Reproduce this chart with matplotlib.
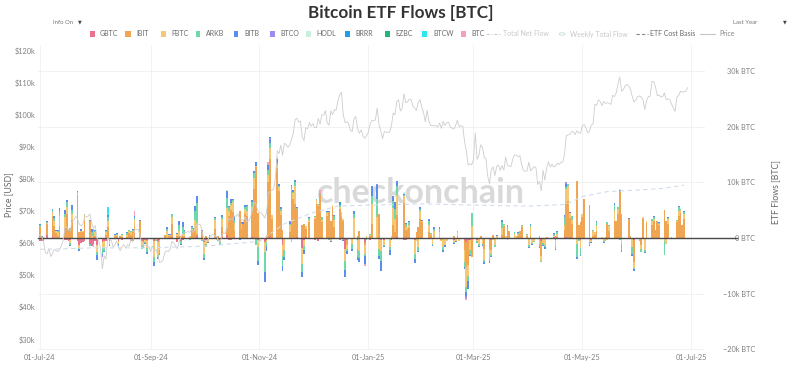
import matplotlib
matplotlib.use("Agg")
import matplotlib.pyplot as plt
import matplotlib.dates as mdates
import numpy as np
import pandas as pd
from matplotlib.patches import Rectangle, Circle
from matplotlib.lines import Line2D

# ---------------- data (flows in thousand BTC per trading day) ----------------
holidays = ["2024-07-04", "2024-09-02", "2024-11-28", "2024-12-25", "2025-01-01",
            "2025-01-09", "2025-01-20", "2025-02-17", "2025-04-18", "2025-05-26", "2025-06-19"]

gbtc = [-0.5,-0.6,-0.5,0.5,0.4,0,0,-0.1,0,-0.3,-0.3,-0.5,-0.3,0,-0.6,-1.2,-0.9,-0.8,-0.6,-1.1,-1.4,-1.1,
        -0.6,-1.2,-0.8,-0.6,-0.5,-0.2,-0.6,0,-0.1,-0.6,-0.2,-0.3,0,0,-0.6,-0.5,0,0,-0.5,-0.8,-0.4,-0.4,
        -0.6,0,-0.5,-0.4,0,0,0,0,0.1,-0.7,0,-0.6,-0.3,0,-0.1,0,-0.1,0,0.4,-0.1,
        -0.7,-0.3,0,-0.1,0,-0.2,0,-0.3,0.1,0.6,-0.3,-0.3,0,0.2,0,0,0,0,0,0.2,0,0,-0.4,
        -0.2,-0.8,-0.3,0,0.4,0,0,-0.2,0,-1.2,-0.1,0,0,0,-0.1,0.1,-1.8,-0.3,0.1,0,
        -0.3,0,-0.5,0,0,0,0,0,0,0,-0.3,0,0,-1.9,-0.4,0,0,-0.3,-0.1,-0.8,-0.2,
        -0.3,0,0,-0.2,-0.4,-0.4,-0.2,0,0,-0.2,0.2,-0.3,-0.3,0,0,-0.4,0,-0.2,0,-0.1,
        0,0,-0.2,-0.2,-0.2,0,0,0,-0.2,-0.2,-0.3,-0.2,-0.2,-0.1,-0.4,-0.7,-0.3,-0.3,0,
        -0.3,-0.2,0,0,-0.2,-0.1,-0.3,0,-0.2,0,0,0,0,0,0,0,0,0,0,0,-0.1,
        -0.2,0,0,0,-0.1,-0.5,0,-0.2,0,0,0.2,-0.3,0.2,0.2,0.1,0,0.1,0,-0.2,-0.1,-0.4,
        0,0,0,-0.3,0,0,0,0,-0.2,0,0,0,0,0,0,-0.1,0,0,0,-0.2,-0.3,
        0,0,0,-0.1,0,0,0,0,0,0,0,0,0,0,0,0,0,0,0]
ibit = [1.9,0,0.1,2.0,3.4,2.1,0.9,0.4,2.1,1.8,4.4,1.2,1.8,3.2,7.8,1.1,1.0,1.0,3.1,3.1,0,0.3,
        0.4,0,0,0,0.5,2.0,0,0.4,0.4,0,0.3,0.2,0.1,0.9,0.5,1.1,2.2,3.0,0,0,0,-0.2,
        0,0,-0.2,0,0.5,0,0.4,0.3,2.5,0.3,0.3,0.3,0.3,0.4,0,1.5,1.4,1.3,0.4,1.2,
        0,0.3,0,0,1.6,0,0.3,0,1.8,1.2,4.0,5.0,4.7,1.0,4.8,1.7,2.6,4.4,4.0,4.7,8.9,12.7,4.5,
        0,0,0.6,10.1,13.8,3.5,12.5,8.4,4.2,1.4,0,1.0,9.4,7.1,6.1,5.2,2.4,2.5,1.6,2.9,
        3.5,6.2,5.7,7.8,2.8,3.9,4.7,3.0,5.5,2.0,5.2,3.8,3.0,0,-0.8,0,0,0.4,1.2,-0.4,0,
        0.4,2.6,0,4.3,0,0,0,0,2.4,1.1,4.0,6.3,1.5,1.5,1.8,0,1.1,2.0,3.4,2.8,
        0,1.0,0.6,0,0,0,-0.3,-0.2,0,0,0.4,0,0.4,0,-1.7,-4.5,-4.6,0,-3.4,
        0,0,0.3,0,-1.7,-1.8,-1.8,0.5,0,0,0.5,2.2,0,2.2,1.2,0,0,0.3,1.2,2.0,0.3,
        0,0.4,0,0,0.4,-2.8,0,0,0.2,0,0,0.4,0,1.2,6.1,6.7,3.5,2.6,10.2,2.3,2.8,
        3.7,7.0,5.9,0,0.4,0.5,1.3,0,0,0.2,2.5,1.3,3.1,3.0,4.4,8.4,4.4,3.5,0.3,0,-4.1,
        0,-1.2,3.5,0,2.7,2.3,3.0,1.2,3.0,2.3,5.0,3.0,2.6,0.2,2.8,4.0,4.5,2.3,3.5]
fbtc = [0.1,0.2,0,0.2,0.9,1.0,0.3,0.6,1.9,1.9,1.2,0.1,-0.6,1.1,0.3,-0.6,0.3,0.2,1.0,0,0.4,-0.3,
        0.6,-1.4,-0.9,-1.2,0.6,1.0,-0.5,0.1,0.2,-0.5,0,0.3,0.5,0.4,0.6,0.2,1.0,0,-0.8,-0.5,-0.3,-1.2,
        -2.8,-0.3,-2.4,-1.7,0,1.2,0.2,0.3,1.1,0.5,0.9,0,0.5,0.3,0.4,0.2,0,1.9,1.9,-0.3,
        -2.1,-0.8,-0.7,0.3,1.6,-0.1,-0.3,-0.5,1.6,3.6,0.9,0.9,1.7,1.5,-0.1,0.8,0,0.9,0.8,0.6,1.9,0.2,-1.2,
        -0.6,-1.8,-0.4,1.3,2.0,0.6,0.6,0.8,0.7,-2.0,-2.1,1.4,-0.6,1.0,3.2,-0.2,-2.8,-1.1,0.4,0.4,
        0.3,0.7,0.2,-0.1,0.4,0.6,-0.1,-0.5,0.4,1.2,0.4,0.8,0.4,-2.2,-0.8,-1.1,3.6,-1.6,-2.2,-1.6,0.3,
        0.2,3.6,3.8,-1.7,-2.0,-0.8,-1.4,0.4,3.0,2.3,3.5,1.2,0.5,0.4,0.5,-2.4,-0.5,-1.4,1.5,0.2,
        -0.2,1.3,0.2,-0.8,1.3,1.0,-0.3,-1.4,-1.0,-0.3,-0.4,-0.3,0.6,-0.4,-2.3,-3.7,-1.9,-1.8,2.2,
        -0.3,-0.8,0.1,-1.0,-2.0,-1.8,-0.8,-0.3,-1.0,0.3,1.3,0.2,0.3,-0.4,-0.2,0.8,0.4,0.5,-0.1,0.2,0.3,
        -1.0,1.5,-0.9,-0.6,-1.0,-0.9,-0.9,-1.0,0,0,0.2,-1.1,0.5,1.0,2.7,2.7,0.9,0.7,-0.9,-0.1,-1.4,
        0.6,0,-0.7,-0.4,0.8,0.6,0.9,0.1,-0.4,-0.3,-0.3,0.8,1.8,0,0.8,0,-1.1,0,-0.1,-1.5,-1.0,
        -0.3,-0.8,0.2,-2.0,0.3,0.7,0.5,0.1,-0.1,0.3,-0.5,-1.0,0.8,-0.1,0.3,0.8,0.5,-0.2,0.8]
arkb = [0.3,0,-0.1,0.2,0.4,0.5,0.1,0.3,0.8,0.6,0.8,0.1,-0.3,0.8,0.2,-0.2,0,0,0.2,-0.3,0.7,-0.2,
        0.3,-0.5,-1.2,-0.5,0.2,0.8,-0.2,0.1,0.2,0,0,0.3,0.3,0.2,0.1,0.1,0.4,0.1,-0.6,-0.3,-0.2,-0.8,
        -1.0,-0.2,-0.4,-0.7,0,0.5,0,0,0.6,0,1.2,-0.5,1.1,0.5,-0.3,0.2,0.2,1.7,3.6,-0.1,
        -0.8,-0.5,-0.1,0.1,0.4,-0.1,-0.3,-0.4,0.2,1.8,0.7,0.4,0.5,0.6,0,0.2,0,0.3,0.9,0.9,0.9,-1.3,-2.6,
        0,-3.5,-0.8,0.8,0.8,0,0.4,0.2,0.4,-1.9,-1.2,0.2,-0.1,0.2,0.8,0.1,-1.5,-0.8,0,0.3,
        0.1,0.1,0.2,0.2,0.5,0.2,-0.3,0,0.1,0.8,0.4,0.1,-0.4,-1.6,-0.3,-0.8,0.7,-1.5,-1.3,-0.4,-0.1,
        0.2,1.4,3.2,-1.3,-1.7,-0.3,-0.6,-0.2,1.3,1.9,1.7,0.2,0.5,0,0.5,-1.0,0,-0.8,0.4,0.1,
        0,0.7,0.1,-0.2,0.4,0.6,0,-0.5,0,0,-0.2,-0.1,0.2,0,-0.8,-0.9,-1.0,-0.9,2.3,
        -0.3,-0.4,-0.1,-0.3,-0.5,-0.5,-0.4,0,-0.4,0.1,1.1,0.2,-0.2,0,0,0.2,-0.1,0.1,-0.1,0.1,0.2,
        -0.4,0.4,-0.2,-0.1,-0.5,-0.1,-0.4,-0.5,0,0,0.3,-0.5,0.4,1.4,0.3,0.3,0,0.6,-2.4,-0.3,-1.2,
        0.1,0,-0.6,-0.1,0.2,0,0.6,-0.2,-0.2,-0.2,0.3,0.2,1.0,0.1,0.3,-0.2,-1.2,0,0,-1.2,-0.2,
        -0.2,-0.5,-0.1,-0.4,0.1,0.4,0.3,0.1,0,0.1,-2.5,0,0.2,0,0.1,0.8,0.2,0,0.4]
bitb = [0.3,0.1,0.1,0.2,0.2,0.4,0.1,0.1,0.6,0.7,0.4,0,-0.2,0.9,0.1,-0.3,0.3,0.1,0.1,0.2,0.6,0.1,
        0.2,-0.8,-0.2,-0.3,0.1,0.4,-0.2,0.1,0.1,-0.3,0,0,0.1,0,0,0.2,0.3,0.1,-0.1,-0.2,-0.2,-0.3,
        -0.6,-0.1,-0.3,-0.3,0,0.3,0.1,0.1,0.1,0.1,0.7,-0.1,0.9,0.3,0,0.2,0.2,0.8,1.2,0.2,
        -0.3,-0.1,-0.1,0.1,0.2,0.1,0,-0.1,0.4,1.2,0.2,0.8,0.1,0.7,-0.3,0.2,0.2,0.3,0.3,0.4,0.3,0.8,-0.7,
        0,-1.9,-0.8,0.9,0.7,0.1,0.7,0.3,0.3,-0.9,-0.6,0.4,0.2,0.3,0.3,0.1,-0.9,-0.6,0,0.2,
        0.1,0,0.1,0,0.1,0.2,0.2,-0.3,0,0.2,0.3,0,-0.2,-1.3,-0.5,-0.5,0.5,-0.5,-0.7,-1.4,0.1,
        0,1.7,2.6,-0.6,-1.9,-0.1,-0.8,-0.1,0.9,1.2,0.9,0.2,0.2,-0.1,0.2,-0.7,-0.1,-0.1,0.3,0.1,
        0,0.4,0,-0.2,0.3,0.3,0,-0.5,-0.4,0,-0.1,-0.1,0,-0.1,-0.4,-0.7,-1.2,-0.3,0,
        0,-0.2,0,-0.2,-0.3,-0.3,-0.2,0,0,0.1,0.3,-0.1,0,0.1,0,0,0,0.1,0,0,0,
        -0.2,0.3,-0.1,-0.1,-0.2,0,-0.2,-0.2,0,0,0.2,-0.3,0.2,0.4,0.6,0.1,0.2,0.1,-0.3,0,-0.3,
        0,0,-0.1,-0.1,0.1,0,0.3,0,-0.1,0,0,0.1,0.4,0,0.1,0.3,-0.2,0.1,0,-0.4,-0.3,
        0,-0.1,0.1,-0.2,0,0.1,0.1,0.1,0.1,0.1,0.1,0.1,0.1,0,0.1,0.2,0.1,0,0.1]
# smaller funds: only days with a visible flow
btco = {"2024-08-05": -0.3, "2024-11-07": 0.3, "2025-01-06": 0.2, "2025-02-25": -0.3, "2025-04-22": 0.2}
hodl = {"2024-10-14": 0.3, "2024-11-11": 0.3, "2025-01-21": 0.3, "2025-05-22": 0.2}
brrr = {"2024-11-07": 0.2}
ezbc = {"2024-12-16": 0.2, "2025-02-26": -0.2}
btcw = {"2024-08-08": 1.3}
btc_mini = {"2024-07-31": 1.2, "2024-08-23": 1.0, "2024-11-06": 0.6, "2024-12-05": 0.6,
            "2024-12-30": -0.5, "2025-02-25": -0.3}

fund_names = ["GBTC", "IBIT", "FBTC", "ARKB", "BITB", "BTCO", "HODL", "BRRR", "EZBC", "BTCW", "BTC"]
fund_colors = ["#e8738f", "#f0a552", "#f6c873", "#6fd8aa", "#5b8def", "#9d8cf0",
               "#c9eedb", "#1e9fe6", "#20b87a", "#2ee6ee", "#f2a0bd"]

# daily BTC price (USD k), one list per month, 2024-07-01 .. 2025-06-29
p_jul = [62.7,62.0,60.2,57.0,56.6,58.2,55.8,56.7,58.0,57.7,57.3,57.9,59.2,60.8,64.7,65.1,64.1,63.9,66.7,67.2,68.2,67.6,65.9,65.4,65.8,67.9,68.2,68.3,69.0,66.2,64.6]
p_aug = [65.4,61.5,60.7,58.1,52.0,56.0,55.0,61.7,60.9,60.9,58.7,59.4,60.6,58.7,57.6,58.9,59.5,58.4,59.5,59.0,61.2,60.4,64.1,64.2,64.2,62.9,59.5,59.0,59.4,59.1,58.9]
p_sep = [57.3,59.1,57.5,58.0,56.2,53.9,54.1,54.8,57.0,57.6,57.3,58.1,60.5,60.0,59.1,58.2,60.3,61.8,62.9,63.2,63.3,63.6,63.3,64.3,63.1,65.2,65.8,65.9,65.6,63.3]
p_oct = [60.8,60.6,60.8,62.1,62.1,62.8,62.2,62.1,60.6,60.3,62.4,63.2,62.9,66.1,67.6,67.4,67.4,68.4,68.4,69.0,67.4,67.4,66.7,68.2,66.6,67.0,68.0,69.9,72.7,72.3,70.2]
p_nov = [69.5,69.4,68.7,67.8,69.4,75.6,75.9,76.5,76.7,80.5,88.7,87.9,90.5,87.3,91.1,90.6,89.8,90.5,92.3,94.3,98.4,98.9,97.7,98.0,93.0,91.9,95.9,95.6,97.5,96.4]
p_dec = [97.2,95.9,96.0,98.8,97.0,99.9,99.9,101.2,97.4,96.7,101.2,100.0,101.5,101.4,104.3,106.1,107.0,100.0,97.5,97.8,97.2,95.1,94.7,98.7,99.4,95.8,94.2,95.2,93.4,92.6,93.4]
p_jan = [94.4,96.9,98.1,98.2,98.3,102.1,96.9,95.0,92.5,94.7,94.5,94.5,94.5,96.5,100.5,99.9,104.1,104.6,101.1,102.0,106.5,103.7,104.0,104.8,104.7,102.6,102.1,101.3,103.7,104.7,102.4]
p_feb = [100.7,97.7,101.4,97.9,96.6,96.6,96.5,96.5,96.1,97.4,95.7,97.9,96.6,97.5,97.6,96.1,95.8,95.5,96.6,98.3,96.1,96.6,96.3,91.5,88.7,84.3,84.7,84.4]
p_mar = [86.0,94.3,86.1,87.2,90.6,89.9,86.7,86.2,80.7,78.5,82.9,83.7,81.0,83.9,84.3,82.6,84.1,82.7,86.8,84.2,84.0,83.8,86.1,87.5,87.4,86.9,87.2,84.4,82.6,82.3,82.5]
p_apr = [85.2,82.5,83.1,83.8,83.5,78.2,79.2,76.3,82.6,79.6,83.4,85.3,83.7,84.5,83.7,84.0,84.9,84.5,85.1,85.2,87.5,93.4,93.7,93.9,94.7,94.6,93.8,95.0,94.3,94.2]
p_may = [96.5,96.9,95.9,94.3,94.7,96.8,97.0,103.2,102.9,104.6,104.1,102.8,104.1,103.5,103.7,103.5,103.2,106.0,105.6,106.8,109.6,111.7,107.3,107.8,109.0,109.4,108.9,107.8,105.6,103.9,104.6]
p_jun = [105.6,105.8,105.4,104.7,101.6,104.4,105.6,105.7,110.3,110.3,108.7,105.9,106.1,105.5,105.6,106.8,104.6,104.9,104.7,103.3,102.1,101.0,105.5,106.0,107.3,107.0,107.1,107.3,108.4]

# ETF cost basis (USD k)
cb_dates = ["2024-07-01", "2024-08-01", "2024-09-01", "2024-10-01", "2024-11-01", "2024-11-15",
            "2024-12-01", "2024-12-15", "2025-01-01", "2025-02-01", "2025-03-01", "2025-04-01",
            "2025-04-22", "2025-05-01", "2025-05-15", "2025-06-01", "2025-06-15", "2025-06-27"]
cb_vals = [58.0, 58.5, 58.5, 59.0, 60.5, 66.0, 69.5, 71.5, 71.8, 72.2, 71.8, 71.5,
           72.0, 74.5, 76.0, 76.5, 77.0, 78.0]

price_ticks = [30, 40, 50, 60, 70, 80, 90, 100, 110, 120]
flow_ticks = [-20, -10, 0, 10, 20, 30]
month_ticks = ["2024-07-01", "2024-09-01", "2024-11-01", "2025-01-01", "2025-03-01", "2025-05-01", "2025-07-01"]

# ---------------- figure ----------------
FONT = "Lato"
plt.rcParams["font.family"] = [FONT, "DejaVu Sans"]
W, H = 800, 366
fig = plt.figure(figsize=(W / 100, H / 100), dpi=100)

def fx(x):
    return x / W

def fy(y):
    return 1 - y / H

L, R, T, B = 38, 705, 45, 350
ax = fig.add_axes([fx(L), fy(B), (R - L) / W, (B - T) / H])
axp = ax.twinx()

days = pd.bdate_range("2024-07-01", "2025-06-27")
days = days[~days.isin(pd.to_datetime(holidays))]
xd = mdates.date2num(days.to_pydatetime())
idx = {d.strftime("%Y-%m-%d"): i for i, d in enumerate(days)}

def sparse(d):
    arr = np.zeros(len(days))
    for k, v in d.items():
        arr[idx[k]] = v
    return arr

series = [np.array(gbtc), np.array(ibit), np.array(fbtc), np.array(arkb), np.array(bitb),
          sparse(btco), sparse(hodl), sparse(brrr), sparse(ezbc), sparse(btcw), sparse(btc_mini)]

pos_base = np.zeros(len(days))
neg_base = np.zeros(len(days))
for vals, col in zip(series, fund_colors):
    v = vals * 1000.0
    bottom = np.where(v >= 0, pos_base, neg_base)
    ax.bar(xd, v, bottom=bottom, width=1.0, color=col, linewidth=0, zorder=3)
    pos_base = pos_base + np.where(v > 0, v, 0)
    neg_base = neg_base + np.where(v < 0, v, 0)

# watermark
ax.text((421 - L) / (R - L), (B - 193) / (B - T), "checkonchain", transform=ax.transAxes,
        ha="center", va="center", fontsize=24.5, fontweight="bold", color="#d9d9d9", zorder=1)

# zero line
ax.axhline(0, xmin=0, xmax=(737 - L) / (R - L), color="#4a4a4a", lw=1.0, zorder=6, clip_on=False)

# price + cost basis on left axis
prices = p_jul + p_aug + p_sep + p_oct + p_nov + p_dec + p_jan + p_feb + p_mar + p_apr + p_may + p_jun
pdays = pd.date_range("2024-07-01", periods=len(prices), freq="D")
axp.plot(mdates.date2num(pdays.to_pydatetime()), np.array(prices) * 1000, color="#cdcdcd", lw=0.6, zorder=4)
cbd = mdates.date2num(pd.to_datetime(cb_dates).to_pydatetime())
axp.plot(cbd, np.array(cb_vals) * 1000, color="#d2dde8", lw=0.8, dashes=(4, 3), zorder=4)

# limits
x0 = mdates.date2num(pd.Timestamp("2024-07-01")) - 1.1
x1 = mdates.date2num(pd.Timestamp("2024-07-01")) + (R - 40) / 1.784
ax.set_xlim(x0, x1)
ax.set_ylim(-(B - 238) / 55.6 * 10000, (238 - T) / 55.6 * 10000)
axp.set_ylim(60000 - (B - 243) / 32.1 * 10000, 60000 + (243 - T) / 32.1 * 10000)

# axes styling
for a in (ax, axp):
    for s in a.spines.values():
        s.set_visible(False)

ax.yaxis.tick_right()
ax.set_yticks([t * 1000 for t in flow_ticks])
ax.set_yticklabels([("\u2212%dk BTC" % abs(t)) if t < 0 else ("%dk BTC" % t if t else "0 BTC") for t in flow_ticks])
ax.tick_params(axis="y", length=0, pad=50 * 0.72, labelsize=5.3, labelcolor="#808080")
for lbl in ax.get_yticklabels():
    lbl.set_ha("right")
for t in flow_ticks:
    if t != 0:
        ax.axhline(t * 1000, color="#f0f0f0", lw=0.6, zorder=0)

mt = mdates.date2num(pd.to_datetime(month_ticks).to_pydatetime())
ax.set_xticks(mt)
ax.set_xticklabels([pd.Timestamp(m).strftime("%d-%b-%y") for m in month_ticks])
ax.tick_params(axis="x", length=0, pad=3, labelsize=5.3, labelcolor="#808080")
for m in mt:
    ax.axvline(m, color="#f0f0f0", lw=0.6, zorder=0)

axp.yaxis.tick_left()
axp.set_yticks([t * 1000 for t in price_ticks])
axp.set_yticklabels(["$%dk" % t for t in price_ticks])
axp.tick_params(axis="y", length=0, pad=2, labelsize=5.3, labelcolor="#808080")
ax.set_zorder(1)
axp.set_zorder(2)
axp.patch.set_visible(False)

fig.text(fx(9), fy(195), "Price [USD]", rotation=90, ha="center", va="center", fontsize=6.3, color="#666666")
fig.text(fx(776), fy(192), "ETF Flows [BTC]", rotation=90, ha="center", va="center", fontsize=6.3, color="#666666")

# title and controls
fig.text(fx(401), fy(13), "Bitcoin ETF Flows [BTC]", ha="center", va="center", fontsize=12.3,
         fontweight="bold", color="#333333")
fig.text(fx(53), fy(22), "Info On", ha="left", va="center", fontsize=4.3, color="#777777")
fig.text(fx(80), fy(22), "\u25BC", ha="center", va="center", fontsize=3.5, color="#444444", family="DejaVu Sans")
fig.text(fx(733), fy(22), "Last Year", ha="left", va="center", fontsize=4.3, color="#777777")
fig.text(fx(785), fy(22), "\u25BC", ha="center", va="center", fontsize=3.5, color="#444444", family="DejaVu Sans")

# legend
ly = 34
LFS = 5.0
sq_x = [92, 128, 163, 198, 236, 272, 308, 347, 387, 425, 463]
for name, col, sx in zip(fund_names, fund_colors, sq_x):
    fig.add_artist(Rectangle((fx(sx - 2.5), fy(ly + 2.5)), 5 / W, 5 / H, transform=fig.transFigure,
                             facecolor=col, edgecolor="none"))
    fig.text(fx(sx + 8), fy(ly), name, ha="left", va="center", fontsize=LFS, color="#6a6a6a")
fig.add_artist(Line2D([fx(486), fx(500)], [fy(ly), fy(ly)], transform=fig.transFigure,
                      color="#cfcfcf", lw=0.8, dashes=(3, 1.5, 1, 1.5)))
fig.text(fx(503), fy(ly), "Total Net Flow", ha="left", va="center", fontsize=LFS, color="#c8c8c8")
fig.add_artist(Circle((fx(562), fy(ly)), 2.8 / W, transform=fig.transFigure, facecolor="none",
                      edgecolor="#cfe8dc", lw=0.8))
fig.text(fx(570), fy(ly), "Weekly Total Flow", ha="left", va="center", fontsize=LFS, color="#c8c8c8")
fig.add_artist(Line2D([fx(636), fx(648)], [fy(ly), fy(ly)], transform=fig.transFigure,
                      color="#888888", lw=0.8, dashes=(3, 2)))
fig.text(fx(650), fy(ly), "ETF Cost Basis", ha="left", va="center", fontsize=LFS, color="#6a6a6a")
fig.add_artist(Line2D([fx(700), fx(715)], [fy(ly), fy(ly)], transform=fig.transFigure,
                      color="#c6c6c6", lw=0.8))
fig.text(fx(719), fy(ly), "Price", ha="left", va="center", fontsize=LFS, color="#888888")

fig.savefig("out.png", dpi=100)
